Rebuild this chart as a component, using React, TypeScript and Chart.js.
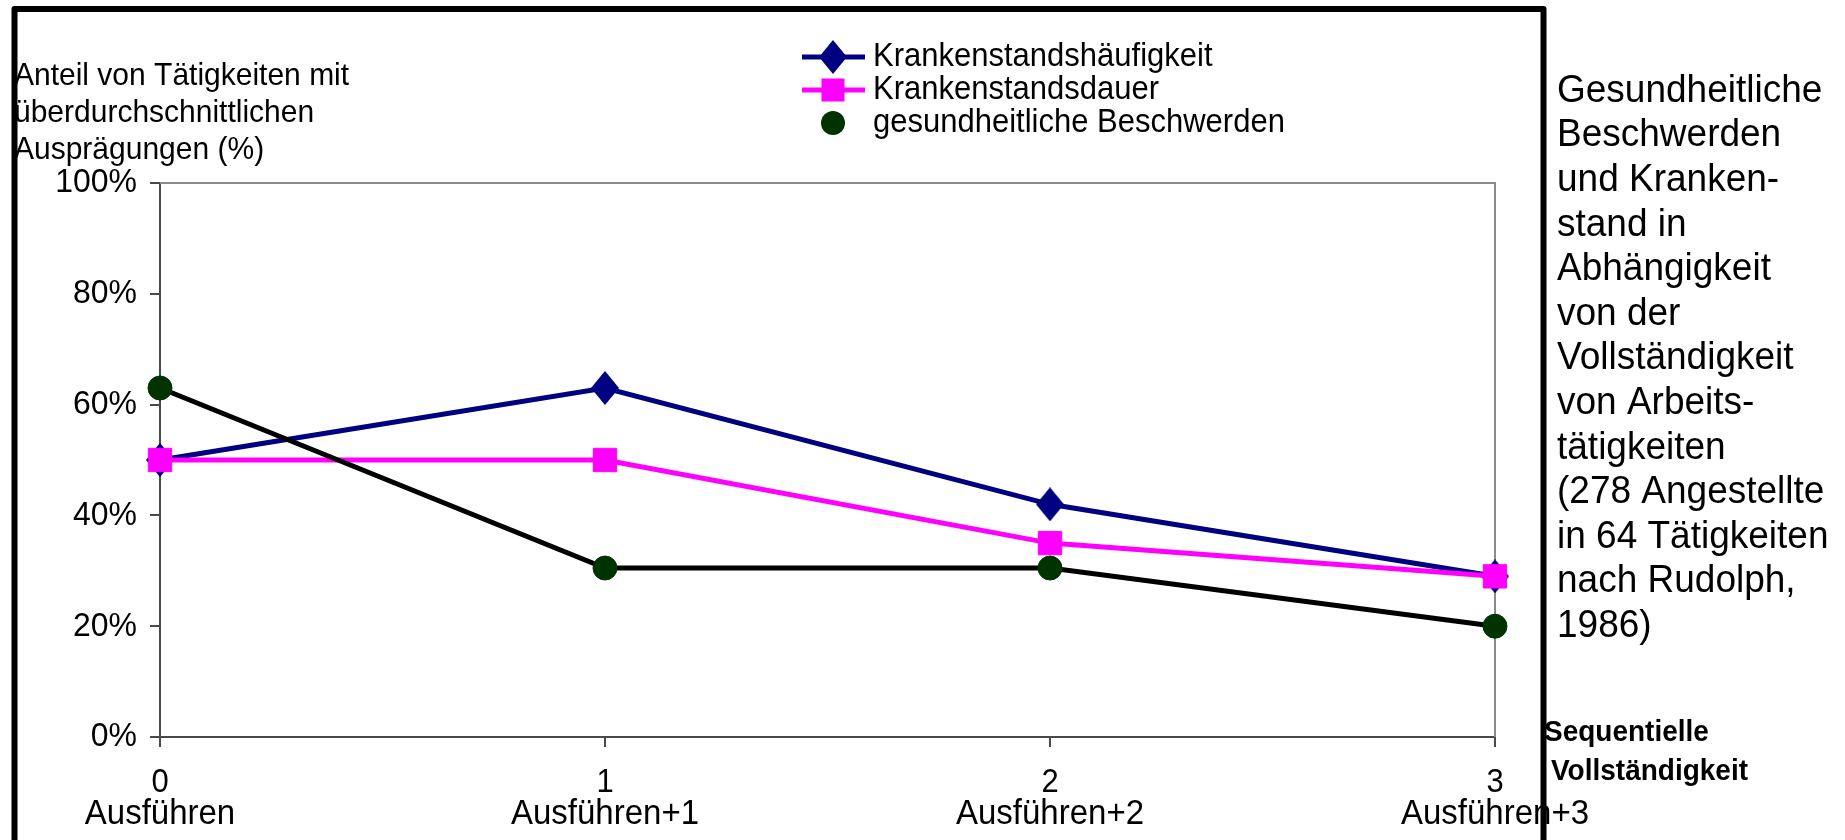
import React, { useEffect, useRef } from "react";
import { Chart, registerables } from "chart.js";

Chart.register(...registerables);

// ---- data ----
const categories = ["0", "1", "2", "3"];
const categoryNames = ["Ausführen", "Ausführen+1", "Ausführen+2", "Ausführen+3"];
const seriesNames = ["Krankenstandshäufigkeit", "Krankenstandsdauer", "gesundheitliche Beschwerden"];
const haeufigkeit = [50, 63, 42, 29];
const dauer = [50, 50, 35, 29];
const beschwerden = [63, 30.5, 30.5, 20];
const yTickStep = 20;
const yMax = 100;
const yTitleLines = ["Anteil von Tätigkeiten mit", "überdurchschnittlichen", "Ausprägungen (%)"];
const xTitleLines = ["Sequentielle", "Vollständigkeit"];
const sideTextLines = [
  "Gesundheitliche",
  "Beschwerden",
  "und Kranken-",
  "stand in",
  "Abhängigkeit",
  "von der",
  "Vollständigkeit",
  "von Arbeits-",
  "tätigkeiten",
  "(278 Angestellte",
  "in 64 Tätigkeiten",
  "nach Rudolph,",
  "1986)",
];

const FONT = 'Arial, "Liberation Sans", sans-serif';
const NAVY = "#000080";
const MAGENTA = "#FF00FF";
const DKGREEN = "#003300";
const SY = 1.06; // glyphs in the reference are slightly taller than regular Arial

function makeDiamond(): HTMLCanvasElement {
  const c = document.createElement("canvas");
  const w = 28;
  const h = 34;
  c.width = w;
  c.height = h;
  const g = c.getContext("2d")!;
  g.fillStyle = NAVY;
  g.beginPath();
  g.moveTo(0, h / 2);
  g.lineTo(w / 2, 0);
  g.lineTo(w, h / 2);
  g.lineTo(w / 2, h);
  g.closePath();
  g.fill();
  return c;
}

function txt(
  ctx: CanvasRenderingContext2D,
  text: string,
  x: number,
  y: number,
  size: number,
  align: CanvasTextAlign = "left",
  weight = ""
) {
  ctx.save();
  ctx.translate(x, y);
  ctx.scale(1 / SY, 1);
  ctx.font = `${weight} ${size * SY}px ${FONT}`;
  ctx.textAlign = align;
  ctx.textBaseline = "middle";
  ctx.fillStyle = "#000";
  ctx.fillText(text, 0, 0);
  ctx.restore();
}

function makeDecor(diamond: HTMLCanvasElement) {
  return {
    id: "decor",
    beforeDatasetsDraw(chart: any) {
      const { ctx, chartArea } = chart;
      ctx.save();
      ctx.strokeStyle = "#8a8a8a";
      ctx.lineWidth = 2;
      ctx.beginPath();
      ctx.moveTo(chartArea.left, chartArea.top);
      ctx.lineTo(chartArea.right, chartArea.top);
      ctx.lineTo(chartArea.right, chartArea.bottom);
      ctx.stroke();
      ctx.restore();
    },
    afterDraw(chart: any) {
      const { ctx, chartArea } = chart;
      const xs = chart.scales.x;
      const ys = chart.scales.y;
      ctx.save();

      // y tick labels
      ys.ticks.forEach((t: any) => {
        txt(ctx, `${t.value}%`, chartArea.left - 23, ys.getPixelForValue(t.value), 32, "right");
      });
      // x tick labels (two rows)
      categories.forEach((c, i) => {
        const x = xs.getPixelForValue(i);
        txt(ctx, c, x, 783, 31, "center");
        txt(ctx, categoryNames[i], x, 814, 33, "center");
      });

      // y-axis title
      yTitleLines.forEach((t, i) => txt(ctx, t, 14, 76 + i * 37, 30));

      // legend
      const legendRows = [
        { style: "diamond", color: NAVY, line: NAVY as string | null },
        { style: "rect", color: MAGENTA, line: MAGENTA as string | null },
        { style: "circle", color: DKGREEN, line: null as string | null },
      ];
      legendRows.forEach((r, i) => {
        const y = 57 + i * 33;
        if (r.line) {
          ctx.strokeStyle = r.line;
          ctx.lineWidth = 5;
          ctx.beginPath();
          ctx.moveTo(802, y);
          ctx.lineTo(865, y);
          ctx.stroke();
        }
        ctx.fillStyle = r.color;
        if (r.style === "diamond") {
          ctx.drawImage(diamond, 833 - diamond.width / 2, y - diamond.height / 2);
        } else if (r.style === "rect") {
          ctx.fillRect(833 - 11.5, y - 11.5, 23, 23);
        } else {
          ctx.beginPath();
          ctx.arc(833, y, 12, 0, Math.PI * 2);
          ctx.fill();
        }
        txt(ctx, seriesNames[i], 873, y, 31);
      });

      // side text
      sideTextLines.forEach((t, i) => txt(ctx, t, 1557, 91 + i * 44.6, 37));

      // x-axis title
      txt(ctx, xTitleLines[0], 1544, 733, 28, "left", "bold");
      txt(ctx, xTitleLines[1], 1551, 772, 28, "left", "bold");

      // outer frame
      ctx.strokeStyle = "#000";
      ctx.lineWidth = 6;
      ctx.lineJoin = "round";
      ctx.beginPath();
      ctx.moveTo(14.5, 900);
      ctx.lineTo(14.5, 9);
      ctx.lineTo(1543.5, 9);
      ctx.lineTo(1543.5, 900);
      ctx.stroke();
      ctx.restore();
    },
  };
}

export default function App() {
  const ref = useRef<HTMLCanvasElement | null>(null);

  useEffect(() => {
    if (!ref.current) return;
    const diamond = makeDiamond();
    const chart = new Chart(ref.current, {
      type: "line",
      data: {
        labels: categories,
        datasets: [
          {
            label: seriesNames[2],
            data: beschwerden,
            borderColor: "#000000",
            borderWidth: 5,
            backgroundColor: DKGREEN,
            pointBackgroundColor: DKGREEN,
            pointBorderColor: DKGREEN,
            pointBorderWidth: 1,
            pointStyle: "circle",
            pointRadius: 12,
            tension: 0,
            clip: false,
            order: 0,
          },
          {
            label: seriesNames[1],
            data: dauer,
            borderColor: MAGENTA,
            borderWidth: 5,
            backgroundColor: MAGENTA,
            pointBackgroundColor: MAGENTA,
            pointBorderColor: MAGENTA,
            pointBorderWidth: 1,
            pointStyle: "rect",
            pointRadius: 16.5,
            tension: 0,
            clip: false,
            order: 1,
          },
          {
            label: seriesNames[0],
            data: haeufigkeit,
            borderColor: NAVY,
            borderWidth: 5,
            backgroundColor: NAVY,
            pointBackgroundColor: NAVY,
            pointBorderColor: NAVY,
            pointStyle: diamond,
            pointRadius: 15,
            tension: 0,
            clip: false,
            order: 2,
          },
        ],
      },
      options: {
        responsive: false,
        animation: false,
        devicePixelRatio: 1,
        layout: { padding: { left: 10, top: 183, right: 350, bottom: 0 } },
        plugins: {
          legend: { display: false },
          tooltip: { enabled: false },
          title: { display: false },
        },
        scales: {
          x: {
            type: "category",
            offset: false,
            afterFit: (s: any) => {
              s.height = 103;
            },
            grid: {
              display: true,
              drawOnChartArea: false,
              drawTicks: true,
              tickLength: 10,
              color: "#4a4a4a",
              lineWidth: 2,
            },
            border: { display: true, color: "#4a4a4a", width: 2 },
            ticks: { display: false, autoSkip: false, maxRotation: 0 },
          },
          y: {
            min: 0,
            max: yMax,
            afterFit: (s: any) => {
              s.width = 150;
            },
            grid: {
              display: true,
              drawOnChartArea: false,
              drawTicks: true,
              tickLength: 10,
              color: "#4a4a4a",
              lineWidth: 2,
            },
            border: { display: true, color: "#4a4a4a", width: 2 },
            ticks: { display: false, stepSize: yTickStep },
          },
        },
      },
      plugins: [makeDecor(diamond)],
    } as any);
    return () => chart.destroy();
  }, []);

  return (
    <div style={{ position: "fixed", left: 0, top: 0, width: 1845, height: 840, background: "#fff" }}>
      <canvas ref={ref} width={1845} height={840} style={{ width: 1845, height: 840, display: "block" }} />
    </div>
  );
}
